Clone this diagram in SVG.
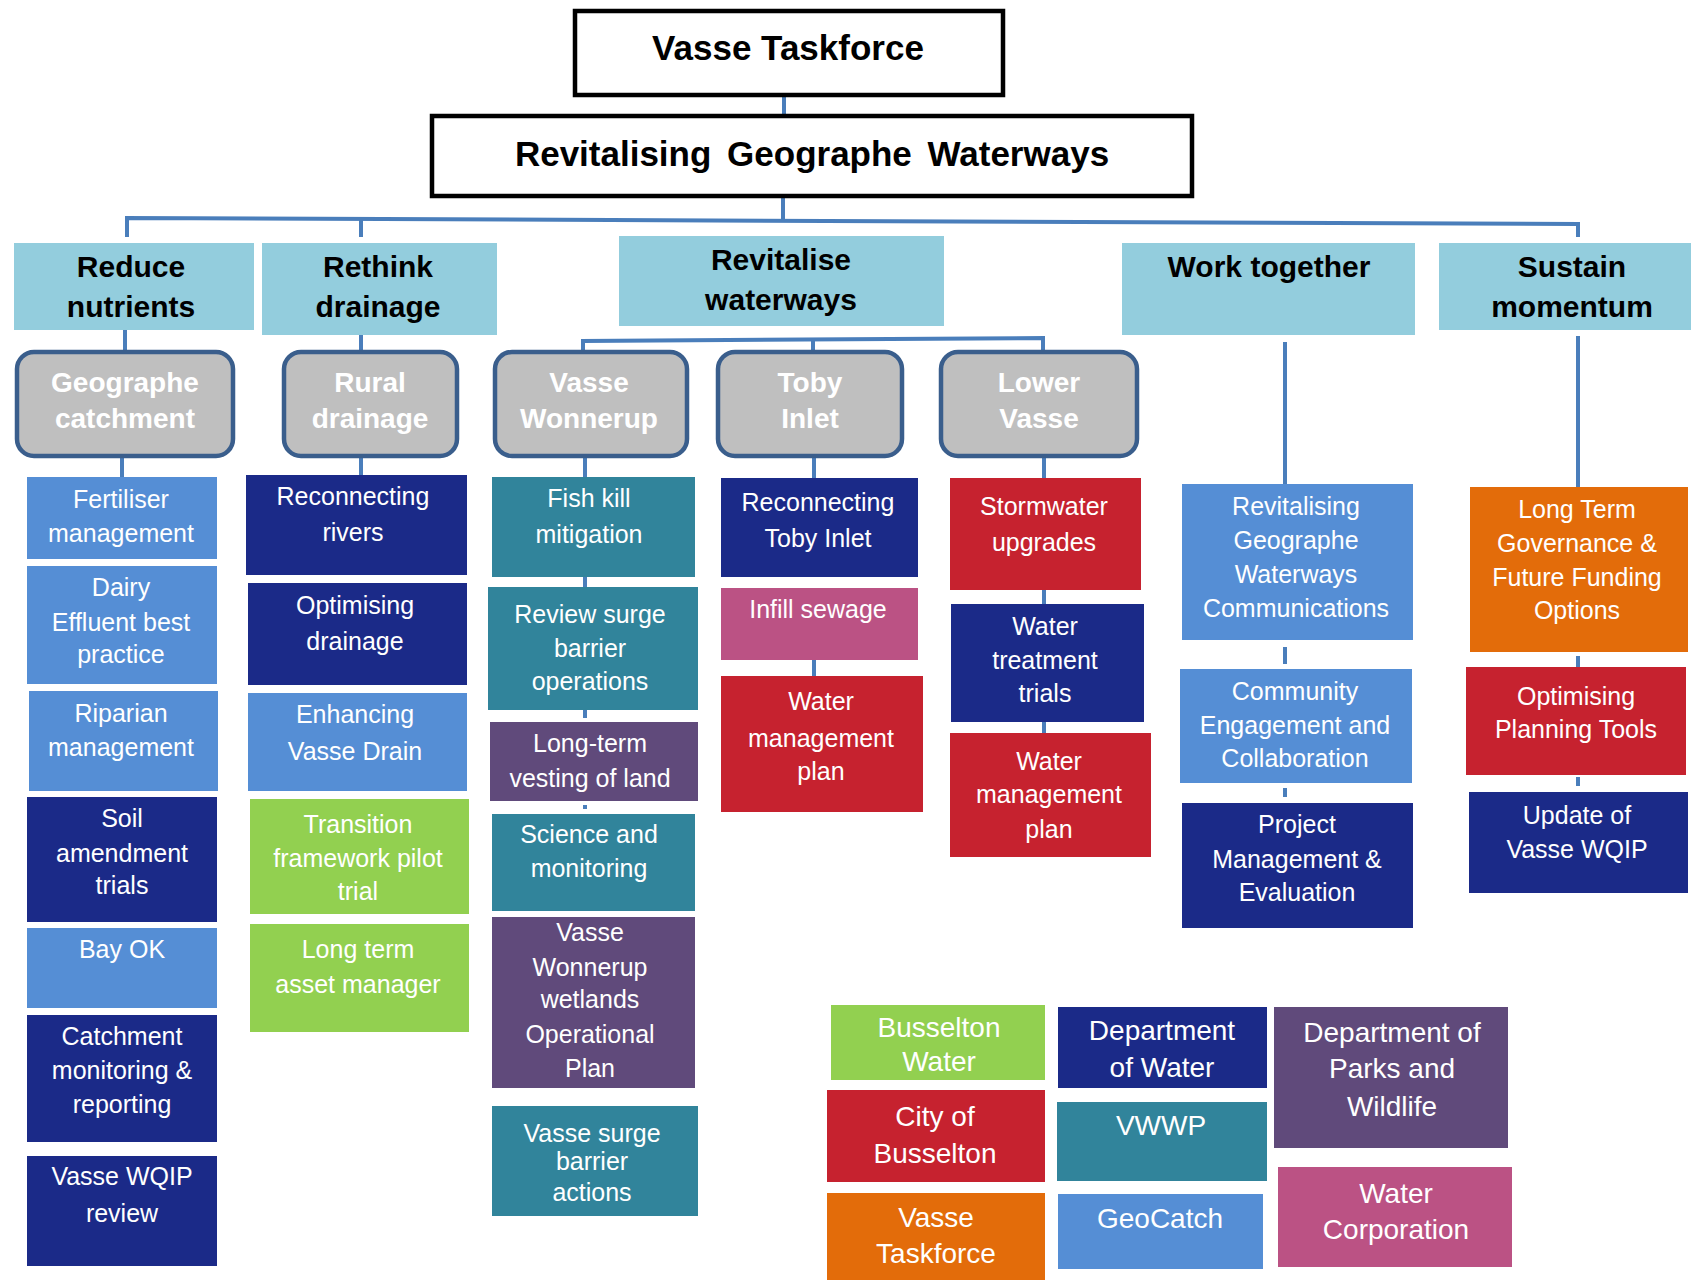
<svg xmlns="http://www.w3.org/2000/svg" width="1691" height="1280" viewBox="0 0 1691 1280">
<style>
.title{fill:#fff;stroke:#000;stroke-width:4.5}
.tt{font-family:"Liberation Sans",Arial,sans-serif;font-weight:bold;font-size:35px;fill:#000;text-anchor:middle}
.l2{fill:#93CDDD}
.l2t{font-family:"Liberation Sans",Arial,sans-serif;font-weight:bold;font-size:30px;fill:#000;text-anchor:middle}
.l3{fill:#BFBFBF;stroke:#3A5E8C;stroke-width:4.5}
.l3t{font-family:"Liberation Sans",Arial,sans-serif;font-weight:bold;font-size:28px;fill:#fff;text-anchor:middle}
.ct{font-family:"Liberation Sans",Arial,sans-serif;font-size:25px;fill:#fff;text-anchor:middle}
.lt{font-family:"Liberation Sans",Arial,sans-serif;font-size:28px;fill:#fff;text-anchor:middle}
.mb{fill:#558ED5}
.nv{fill:#1B2A88}
.tl{fill:#31849B}
.pu{fill:#604A7B}
.gr{fill:#92D050}
.rd{fill:#C6222F}
.pk{fill:#BB5284}
.or{fill:#E36C0A}
.cn{fill:none;stroke:#4A7EBB;stroke-width:4}
</style>
<rect width="1691" height="1280" fill="#fff"/>
<g id="connectors">
<path class="cn" d="M784,95 V116"/>
<path class="cn" d="M783,196 V219"/>
<path class="cn" d="M127,237 V218 L1578,224 V237"/>
<path class="cn" d="M361,219 V237"/>
<path class="cn" d="M125,330 V350"/>
<path class="cn" d="M361,335 V350"/>
<path class="cn" d="M583,350 V341 L1043,338 V350"/>
<path class="cn" d="M813,339 V350"/>
<path class="cn" d="M1285,342 V484"/>
<path class="cn" d="M1578,336 V487"/>
<path class="cn" d="M122,457 V477"/>
<path class="cn" d="M361,457 V475"/>
<path class="cn" d="M585,457 V477 M585,577 V587 M585,710 V718 M585,805 V809"/>
<path class="cn" d="M814,457 V478 M814,660 V676"/>
<path class="cn" d="M1044,457 V478 M1044,590 V604 M1044,722 V733"/>
<path class="cn" d="M1285,647 V664 M1285,788 V797"/>
<path class="cn" d="M1578,656 V667 M1578,777 V786"/>
</g>
<g id="vasse-taskforce"><rect class="title" x="575" y="11" width="428" height="84"/><text class="tt" x="788" y="60">Vasse Taskforce</text></g>
<g id="revitalising-geographe-waterways"><rect class="title" x="432" y="116" width="760" height="80"/><text class="tt" x="812" y="166" font-size="34" word-spacing="6">Revitalising Geographe Waterways</text></g>

<g id="reduce-nutrients"><rect class="l2" x="14" y="243" width="240" height="87"/><text class="l2t" x="131" y="277">Reduce</text><text class="l2t" x="131" y="317">nutrients</text></g>
<g id="rethink-drainage"><rect class="l2" x="262" y="243" width="235" height="92"/><text class="l2t" x="378" y="277">Rethink</text><text class="l2t" x="378" y="317">drainage</text></g>
<g id="revitalise-waterways"><rect class="l2" x="619" y="236" width="325" height="90"/><text class="l2t" x="781" y="270">Revitalise</text><text class="l2t" x="781" y="310">waterways</text></g>
<g id="work-together"><rect class="l2" x="1122" y="243" width="293" height="92"/><text class="l2t" x="1269" y="277">Work together</text></g>
<g id="sustain-momentum"><rect class="l2" x="1439" y="243" width="260" height="87"/><text class="l2t" x="1572" y="277">Sustain</text><text class="l2t" x="1572" y="317">momentum</text></g>

<g id="geographe-catchment"><rect class="l3" x="17" y="352" width="216" height="104" rx="17"/><text class="l3t" x="125" y="392">Geographe</text><text class="l3t" x="125" y="428">catchment</text></g>
<g id="rural-drainage"><rect class="l3" x="284" y="352" width="173" height="104" rx="17"/><text class="l3t" x="370" y="392">Rural</text><text class="l3t" x="370" y="428">drainage</text></g>
<g id="vasse-wonnerup"><rect class="l3" x="495" y="352" width="192" height="104" rx="17"/><text class="l3t" x="589" y="392">Vasse</text><text class="l3t" x="589" y="428">Wonnerup</text></g>
<g id="toby-inlet"><rect class="l3" x="718" y="352" width="184" height="104" rx="17"/><text class="l3t" x="810" y="392">Toby</text><text class="l3t" x="810" y="428">Inlet</text></g>
<g id="lower-vasse"><rect class="l3" x="941" y="352" width="196" height="104" rx="17"/><text class="l3t" x="1039" y="392">Lower</text><text class="l3t" x="1039" y="428">Vasse</text></g>

<g id="fertiliser-management"><rect class="mb" x="27" y="477" width="190" height="82"/><text class="ct" x="121" y="508">Fertiliser</text><text class="ct" x="121" y="542">management</text></g>
<g id="dairy-effluent"><rect class="mb" x="27" y="566" width="190" height="118"/><text class="ct" x="121" y="596">Dairy</text><text class="ct" x="121" y="631">Effluent best</text><text class="ct" x="121" y="663">practice</text></g>
<g id="riparian-management"><rect class="mb" x="29" y="691" width="189" height="100"/><text class="ct" x="121" y="722">Riparian</text><text class="ct" x="121" y="756">management</text></g>
<g id="soil-amendment"><rect class="nv" x="27" y="797" width="190" height="125"/><text class="ct" x="122" y="827">Soil</text><text class="ct" x="122" y="862">amendment</text><text class="ct" x="122" y="894">trials</text></g>
<g id="bay-ok"><rect class="mb" x="27" y="928" width="190" height="80"/><text class="ct" x="122" y="958">Bay OK</text></g>
<g id="catchment-monitoring"><rect class="nv" x="27" y="1015" width="190" height="127"/><text class="ct" x="122" y="1045">Catchment</text><text class="ct" x="122" y="1079">monitoring &amp;</text><text class="ct" x="122" y="1113">reporting</text></g>
<g id="vasse-wqip-review"><rect class="nv" x="27" y="1156" width="190" height="110"/><text class="ct" x="122" y="1185">Vasse WQIP</text><text class="ct" x="122" y="1222">review</text></g>

<g id="reconnecting-rivers"><rect class="nv" x="246" y="475" width="221" height="100"/><text class="ct" x="353" y="505">Reconnecting</text><text class="ct" x="353" y="541">rivers</text></g>
<g id="optimising-drainage"><rect class="nv" x="248" y="583" width="219" height="102"/><text class="ct" x="355" y="614">Optimising</text><text class="ct" x="355" y="650">drainage</text></g>
<g id="enhancing-vasse-drain"><rect class="mb" x="248" y="693" width="219" height="98"/><text class="ct" x="355" y="723">Enhancing</text><text class="ct" x="355" y="760">Vasse Drain</text></g>
<g id="transition-framework"><rect class="gr" x="250" y="799" width="219" height="115"/><text class="ct" x="358" y="833">Transition</text><text class="ct" x="358" y="867">framework pilot</text><text class="ct" x="358" y="900">trial</text></g>
<g id="long-term-asset-manager"><rect class="gr" x="250" y="924" width="219" height="108"/><text class="ct" x="358" y="958">Long term</text><text class="ct" x="358" y="993">asset manager</text></g>

<g id="fish-kill-mitigation"><rect class="tl" x="492" y="477" width="203" height="100"/><text class="ct" x="589" y="507">Fish kill</text><text class="ct" x="589" y="543">mitigation</text></g>
<g id="review-surge-barrier"><rect class="tl" x="488" y="587" width="210" height="123"/><text class="ct" x="590" y="623">Review surge</text><text class="ct" x="590" y="657">barrier</text><text class="ct" x="590" y="690">operations</text></g>
<g id="long-term-vesting"><rect class="pu" x="490" y="722" width="208" height="79"/><text class="ct" x="590" y="752">Long-term</text><text class="ct" x="590" y="787">vesting of land</text></g>
<g id="science-monitoring"><rect class="tl" x="492" y="814" width="203" height="97"/><text class="ct" x="589" y="843">Science and</text><text class="ct" x="589" y="877">monitoring</text></g>
<g id="vw-wetlands-plan"><rect class="pu" x="492" y="917" width="203" height="171"/><text class="ct" x="590" y="941">Vasse</text><text class="ct" x="590" y="976">Wonnerup</text><text class="ct" x="590" y="1008">wetlands</text><text class="ct" x="590" y="1043">Operational</text><text class="ct" x="590" y="1077">Plan</text></g>
<g id="vasse-surge-barrier-actions"><rect class="tl" x="492" y="1106" width="206" height="110"/><text class="ct" x="592" y="1142">Vasse surge</text><text class="ct" x="592" y="1170">barrier</text><text class="ct" x="592" y="1201">actions</text></g>

<g id="reconnecting-toby-inlet"><rect class="nv" x="721" y="478" width="197" height="99"/><text class="ct" x="818" y="511">Reconnecting</text><text class="ct" x="818" y="547">Toby Inlet</text></g>
<g id="infill-sewage"><rect class="pk" x="721" y="588" width="197" height="72"/><text class="ct" x="818" y="618">Infill sewage</text></g>
<g id="toby-water-management-plan"><rect class="rd" x="721" y="676" width="202" height="136"/><text class="ct" x="821" y="710">Water</text><text class="ct" x="821" y="747">management</text><text class="ct" x="821" y="780">plan</text></g>

<g id="stormwater-upgrades"><rect class="rd" x="950" y="478" width="191" height="112"/><text class="ct" x="1044" y="515">Stormwater</text><text class="ct" x="1044" y="551">upgrades</text></g>
<g id="water-treatment-trials"><rect class="nv" x="951" y="604" width="193" height="118"/><text class="ct" x="1045" y="635">Water</text><text class="ct" x="1045" y="669">treatment</text><text class="ct" x="1045" y="702">trials</text></g>
<g id="lower-water-management-plan"><rect class="rd" x="950" y="733" width="201" height="124"/><text class="ct" x="1049" y="770">Water</text><text class="ct" x="1049" y="803">management</text><text class="ct" x="1049" y="838">plan</text></g>

<g id="rgw-communications"><rect class="mb" x="1182" y="484" width="231" height="156"/><text class="ct" x="1296" y="515">Revitalising</text><text class="ct" x="1296" y="549">Geographe</text><text class="ct" x="1296" y="583">Waterways</text><text class="ct" x="1296" y="617">Communications</text></g>
<g id="community-engagement"><rect class="mb" x="1180" y="669" width="232" height="114"/><text class="ct" x="1295" y="700">Community</text><text class="ct" x="1295" y="734">Engagement and</text><text class="ct" x="1295" y="767">Collaboration</text></g>
<g id="project-management"><rect class="nv" x="1182" y="803" width="231" height="125"/><text class="ct" x="1297" y="833">Project</text><text class="ct" x="1297" y="868">Management &amp;</text><text class="ct" x="1297" y="901">Evaluation</text></g>

<g id="long-term-governance"><rect class="or" x="1470" y="487" width="218" height="165"/><text class="ct" x="1577" y="518">Long Term</text><text class="ct" x="1577" y="552">Governance &amp;</text><text class="ct" x="1577" y="586">Future Funding</text><text class="ct" x="1577" y="619">Options</text></g>
<g id="optimising-planning-tools"><rect class="rd" x="1466" y="667" width="220" height="108"/><text class="ct" x="1576" y="705">Optimising</text><text class="ct" x="1576" y="738">Planning Tools</text></g>
<g id="update-vasse-wqip"><rect class="nv" x="1469" y="792" width="219" height="101"/><text class="ct" x="1577" y="824">Update of</text><text class="ct" x="1577" y="858">Vasse WQIP</text></g>

<g id="busselton-water"><rect class="gr" x="831" y="1005" width="214" height="75"/><text class="lt" x="939" y="1037">Busselton</text><text class="lt" x="939" y="1071">Water</text></g>
<g id="city-of-busselton"><rect class="rd" x="827" y="1090" width="218" height="92"/><text class="lt" x="935" y="1126">City of</text><text class="lt" x="935" y="1163">Busselton</text></g>
<g id="vasse-taskforce-legend"><rect class="or" x="827" y="1193" width="218" height="87"/><text class="lt" x="936" y="1227">Vasse</text><text class="lt" x="936" y="1263">Taskforce</text></g>
<g id="department-of-water"><rect class="nv" x="1058" y="1007" width="209" height="81"/><text class="lt" x="1162" y="1040">Department</text><text class="lt" x="1162" y="1077">of Water</text></g>
<g id="vwwp"><rect class="tl" x="1057" y="1102" width="210" height="79"/><text class="lt" x="1161" y="1135">VWWP</text></g>
<g id="geocatch"><rect class="mb" x="1058" y="1194" width="205" height="75"/><text class="lt" x="1160" y="1228">GeoCatch</text></g>
<g id="dpaw"><rect class="pu" x="1274" y="1007" width="234" height="141"/><text class="lt" x="1392" y="1042">Department of</text><text class="lt" x="1392" y="1078">Parks and</text><text class="lt" x="1392" y="1116">Wildlife</text></g>
<g id="water-corporation"><rect class="pk" x="1278" y="1167" width="234" height="100"/><text class="lt" x="1396" y="1203">Water</text><text class="lt" x="1396" y="1239">Corporation</text></g>
</svg>
